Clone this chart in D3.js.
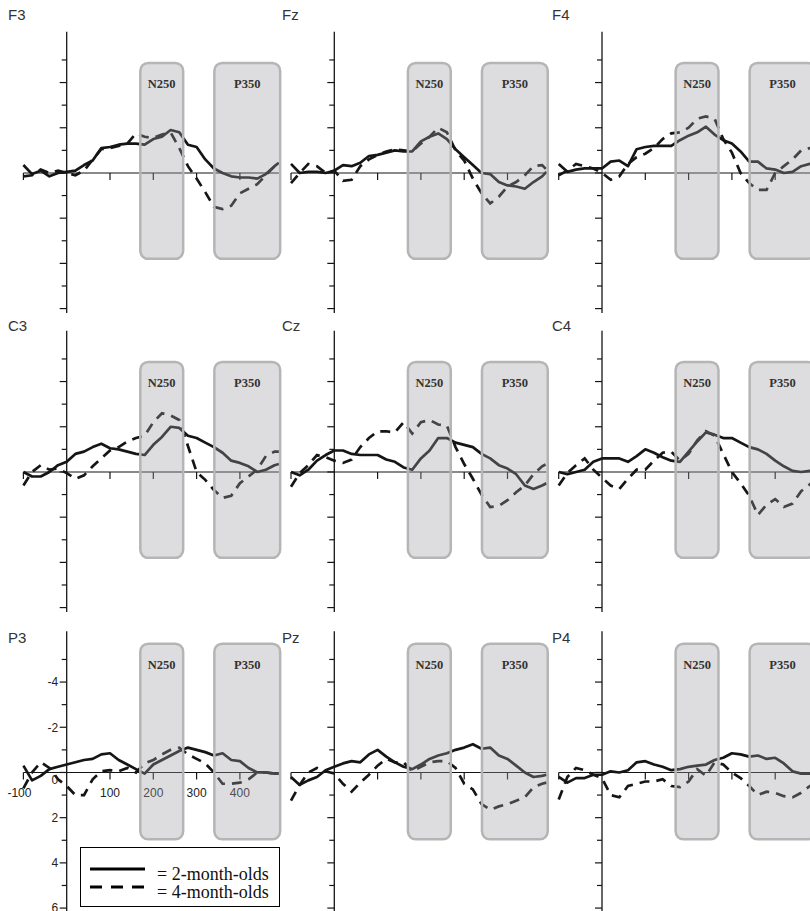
<!DOCTYPE html>
<html>
<head>
<meta charset="utf-8">
<script src="https://cdn.jsdelivr.net/npm/d3@7"></script>
<style>
  html, body { margin: 0; padding: 0; background: #fff; }
  svg { display: block; }
</style>
</head>
<body>
<div class="svgContainer"></div>
<script>
// Time points (ms) the waveforms were read at
var TIMES = [-100, -80, -60, -40, -20, 0, 20, 40, 60, 80, 100, 120, 140, 160, 180, 200,
             220, 240, 260, 280, 300, 320, 340, 360, 380, 400, 420, 440, 460, 480, 490];

// Electrode names, row by row
var CHANNELS = ["F3", "Fz", "F4", "C3", "Cz", "C4", "P3", "Pz", "P4"];

// Amplitudes in microvolts (negative plotted up), 2-month-olds = solid, 4-month-olds = dashed
var F3_2mo = [-0.35, 0.05, -0.1, 0.15, 0.0, -0.05, -0.1, -0.35, -0.55, -1.1, -1.15, -1.25, -1.3, -1.3, -1.25, -1.5, -1.6, -1.9, -1.8, -1.25, -1.15, -0.6, -0.2, 0.0, 0.15, 0.2, 0.2, 0.25, 0.05, -0.3, -0.45];
var F3_4mo = [0.15, 0.1, -0.15, 0.0, -0.1, 0.0, 0.1, -0.1, -0.6, -1.05, -1.1, -1.2, -1.3, -1.75, -1.6, -1.55, -1.7, -1.8, -1.1, -0.3, 0.25, 0.85, 1.5, 1.6, 1.45, 0.9, 0.7, 0.5, 0.1, -0.3, -0.45];
var Fz_2mo = [-0.4, 0.0, -0.05, -0.05, 0.0, -0.1, -0.35, -0.3, -0.45, -0.75, -0.8, -0.9, -1.0, -0.95, -0.95, -1.4, -1.6, -1.75, -1.5, -1.05, -0.7, -0.35, 0.0, 0.05, 0.4, 0.55, 0.6, 0.7, 0.4, 0.15, -0.05];
var Fz_4mo = [0.45, 0.0, -0.4, -0.3, 0.0, -0.1, 0.35, 0.3, -0.3, -0.6, -0.8, -0.95, -1.05, -1.0, -0.95, -1.3, -1.6, -2.0, -1.8, -1.0, -0.55, 0.25, 0.9, 1.35, 1.05, 0.6, 0.4, 0.1, -0.3, -0.35, -0.15];
var F4_2mo = [-0.4, -0.05, -0.15, -0.2, -0.2, -0.2, -0.5, -0.55, -0.3, -1.05, -1.15, -1.2, -1.2, -1.2, -1.45, -1.65, -1.8, -2.05, -1.7, -1.45, -1.3, -0.95, -0.5, -0.5, -0.2, -0.15, 0.0, -0.05, -0.3, -0.4, -0.4];
var F4_4mo = [0.1, -0.1, -0.4, -0.3, -0.2, 0.0, 0.3, 0.15, -0.4, -0.7, -0.85, -1.1, -1.5, -1.75, -1.8, -2.0, -2.4, -2.5, -2.4, -1.5, -0.9, 0.0, 0.45, 0.75, 0.75, 0.0, -0.3, -0.6, -1.0, -1.1, -1.1];
var C3_2mo = [0.0, 0.2, 0.2, 0.0, -0.3, -0.45, -0.8, -0.9, -1.1, -1.25, -1.05, -1.0, -0.9, -0.8, -0.75, -1.2, -1.55, -2.0, -1.95, -1.6, -1.5, -1.3, -1.1, -0.85, -0.5, -0.4, -0.25, 0.0, -0.1, -0.3, -0.35];
var C3_4mo = [0.6, 0.0, -0.3, -0.1, -0.15, 0.05, 0.3, 0.15, -0.25, -0.6, -0.95, -1.1, -1.35, -1.5, -1.6, -2.2, -2.6, -2.5, -2.3, -1.15, 0.0, 0.35, 0.8, 1.15, 1.05, 0.5, 0.2, -0.1, -0.7, -0.9, -0.9];
var Cz_2mo = [0.0, 0.15, -0.1, -0.5, -0.75, -0.95, -0.95, -0.8, -0.75, -0.75, -0.75, -0.55, -0.45, -0.2, -0.1, -0.6, -0.95, -1.5, -1.5, -1.3, -1.2, -1.1, -0.8, -0.6, -0.3, -0.15, 0.1, 0.6, 0.75, 0.6, 0.5];
var Cz_4mo = [0.65, 0.05, -0.3, -0.75, -0.65, -0.5, -0.4, -0.55, -1.1, -1.5, -1.8, -1.8, -1.75, -2.2, -1.7, -2.2, -2.3, -2.1, -2.05, -1.1, -0.35, 0.3, 1.0, 1.55, 1.5, 1.25, 0.9, 0.6, 0.1, -0.25, -0.35];
var C4_2mo = [0.0, 0.1, 0.0, -0.1, -0.45, -0.6, -0.6, -0.6, -0.45, -0.7, -1.0, -0.85, -0.65, -0.5, -0.45, -0.9, -1.35, -1.75, -1.65, -1.5, -1.5, -1.3, -1.1, -1.0, -0.8, -0.5, -0.25, -0.05, 0.0, -0.05, -0.05];
var C4_4mo = [0.6, 0.05, -0.3, -0.6, -0.1, 0.25, 0.6, 0.75, 0.3, -0.1, -0.1, -0.5, -0.85, -0.9, -0.5, -0.8, -1.4, -1.8, -1.6, -0.8, 0.0, 0.5, 1.05, 1.9, 1.45, 1.2, 1.55, 1.4, 0.85, 0.55, 0.4];
var P3_2mo = [-0.3, 0.35, 0.15, -0.15, -0.25, -0.35, -0.45, -0.55, -0.6, -0.8, -0.85, -0.55, -0.35, -0.15, 0.05, -0.35, -0.55, -0.75, -0.95, -1.1, -1.0, -0.9, -0.75, -0.85, -0.55, -0.5, -0.2, 0.0, 0.0, 0.05, 0.05];
var P3_4mo = [0.7, 0.0, -0.45, -0.2, 0.3, 0.6, 1.0, 1.0, 0.3, -0.05, -0.1, -0.05, -0.2, 0.0, -0.4, -0.55, -0.8, -1.0, -1.1, -0.8, -0.6, -0.4, 0.0, 0.5, 0.5, 0.45, 0.3, 0.0, 0.0, 0.05, 0.05];
var Pz_2mo = [0.2, 0.55, 0.35, 0.2, -0.1, -0.25, -0.4, -0.5, -0.45, -0.8, -1.0, -0.7, -0.45, -0.25, -0.15, -0.35, -0.6, -0.75, -0.85, -1.0, -1.1, -1.25, -1.05, -1.1, -0.75, -0.6, -0.3, 0.0, 0.2, 0.15, 0.1];
var Pz_4mo = [1.25, 0.55, 0.0, -0.2, -0.05, 0.05, 0.5, 0.85, 0.45, 0.1, -0.3, -0.6, -0.45, -0.45, -0.05, -0.25, -0.45, -0.5, -0.5, -0.2, 0.5, 0.75, 1.4, 1.65, 1.5, 1.4, 1.25, 1.1, 0.65, 0.5, 0.45];
var P4_2mo = [0.2, 0.45, 0.25, 0.25, 0.1, 0.1, -0.05, 0.0, -0.1, -0.45, -0.5, -0.35, -0.25, -0.1, -0.15, -0.25, -0.3, -0.35, -0.55, -0.65, -0.85, -0.8, -0.7, -0.75, -0.6, -0.65, -0.4, -0.05, 0.05, 0.05, 0.05];
var P4_4mo = [1.2, 0.2, -0.2, -0.1, 0.1, 0.25, 1.0, 1.1, 0.6, 0.5, 0.4, 0.4, 0.3, 0.6, 0.65, 0.4, -0.15, 0.15, -0.45, -0.35, 0.0, 0.25, 0.6, 1.0, 0.85, 0.9, 1.05, 1.1, 0.9, 0.6, 0.5];

// Component windows (ms) and their vertical extent per row (microvolts)
var WINDOWS = [{name: "N250", from: 170, to: 269}, {name: "P350", from: 341, to: 493}];
var BOX_TOP = [-4.87, -4.87, -5.7];
var BOX_BOTTOM = [3.8, 3.8, 2.96];

// Axis ticks
var X_TICKS = [-100, 100, 200, 300, 400];
var X_LABELS = ["-100", "100", "200", "300", "400"];
var Y_TICKS = [-5, -4, -3, -2, -1, 0, 1, 2, 3, 4, 5, 6];
var Y_LABELS = ["-4", "-2", "0", "2", "4", "6"];

var LEGEND = ["= 2-month-olds", "= 4-month-olds"];

var series = {
    F3: [F3_2mo, F3_4mo], Fz: [Fz_2mo, Fz_4mo], F4: [F4_2mo, F4_4mo],
    C3: [C3_2mo, C3_4mo], Cz: [Cz_2mo, Cz_4mo], C4: [C4_2mo, C4_4mo],
    P3: [P3_2mo, P3_4mo], Pz: [Pz_2mo, Pz_4mo], P4: [P4_2mo, P4_4mo]
};

// Layout
var width = 810, height = 911;
var colX = [66.7, 334.3, 602];      // y-axis position of each column
var rowY = [173, 472, 772.5];       // zero line of each row
var labelX = [8, 282, 552];
var labelY = [20, 331, 643];
var SANS = "'Liberation Sans', Arial, Helvetica, sans-serif";
var SERIF = "'Liberation Serif', 'Times New Roman', Times, serif";
var INK = "#151515";

var svg = d3.select(".svgContainer").append("svg")
    .attr("width", width)
    .attr("height", height);

var x = d3.scaleLinear().domain([-100, 500]).range([-43.3, 216.5]);
var y = d3.scaleLinear().domain([-6.25, 6.2]).range([-141.3, 140.1]);

var line = d3.line()
    .x(function(d) { return x(d[0]); })
    .y(function(d) { return y(d[1]); });

CHANNELS.forEach(function(name, i) {
    var row = Math.floor(i / 3), col = i % 3;
    var g = svg.append("g")
        .attr("transform", "translate(" + colX[col] + "," + rowY[row] + ")");

    // electrode label
    svg.append("text")
        .attr("x", labelX[col])
        .attr("y", labelY[row])
        .attr("font-family", SANS)
        .attr("font-size", 15)
        .attr("fill", "#333")
        .text(name);

    // y axis
    g.append("line")
        .attr("x1", 0).attr("x2", 0)
        .attr("y1", y(-6.25)).attr("y2", y(6.2))
        .attr("stroke", INK).attr("stroke-width", 1.3);
    g.selectAll(".ytick")
        .data(Y_TICKS)
        .enter().append("line")
        .attr("class", "ytick")
        .attr("x1", function(d) { return d % 2 === 0 ? -7 : -5; })
        .attr("x2", 0)
        .attr("y1", function(d) { return y(d); })
        .attr("y2", function(d) { return y(d); })
        .attr("stroke", INK).attr("stroke-width", 1.2);

    // x axis (zero line)
    g.append("line")
        .attr("x1", x(-100)).attr("x2", x(490))
        .attr("y1", 0).attr("y2", 0)
        .attr("stroke", INK).attr("stroke-width", 1.2);
    g.selectAll(".xtick")
        .data(X_TICKS)
        .enter().append("line")
        .attr("class", "xtick")
        .attr("x1", function(d) { return x(d); })
        .attr("x2", function(d) { return x(d); })
        .attr("y1", 0).attr("y2", 7)
        .attr("stroke", INK).attr("stroke-width", 1.2);

    // waveforms
    var s = series[name];
    g.append("path")
        .datum(d3.zip(TIMES, s[0]))
        .attr("d", line)
        .attr("fill", "none")
        .attr("stroke", INK)
        .attr("stroke-width", 2.7)
        .attr("stroke-linejoin", "round");
    g.append("path")
        .datum(d3.zip(TIMES, s[1]))
        .attr("d", line)
        .attr("fill", "none")
        .attr("stroke", INK)
        .attr("stroke-width", 2.7)
        .attr("stroke-dasharray", "10,7");

    // tick labels only on P3
    if (name === "P3") {
        g.selectAll(".ylab")
            .data(Y_LABELS)
            .enter().append("text")
            .attr("class", "ylab")
            .attr("x", -8.5)
            .attr("y", function(d) { return y(+d) + (d === "0" ? 11.5 : 4.3); })
            .attr("text-anchor", "end")
            .attr("font-family", SANS)
            .attr("font-size", 12)
            .attr("fill", "#222")
            .text(function(d) { return d; });
        g.selectAll(".xlab")
            .data(X_LABELS)
            .enter().append("text")
            .attr("class", "xlab")
            .attr("x", function(d) { return x(+d) - (+d < 0 ? 4 : 0); })
            .attr("y", 24)
            .attr("text-anchor", "middle")
            .attr("font-family", SANS)
            .attr("font-size", 12)
            .attr("fill", "#222")
            .text(function(d) { return d; });
    }

    // component windows drawn over the traces
    g.selectAll(".win")
        .data(WINDOWS)
        .enter().append("rect")
        .attr("class", "win")
        .attr("x", function(d) { return x(d.from); })
        .attr("width", function(d) { return x(d.to) - x(d.from); })
        .attr("y", y(BOX_TOP[row]))
        .attr("height", y(BOX_BOTTOM[row]) - y(BOX_TOP[row]))
        .attr("rx", 8).attr("ry", 8)
        .attr("fill", "#9d9ea3")
        .attr("fill-opacity", 0.35)
        .attr("stroke", "#b5b5b5")
        .attr("stroke-width", 2.5);
    g.selectAll(".winlab")
        .data(WINDOWS)
        .enter().append("text")
        .attr("class", "winlab")
        .attr("x", function(d) { return (x(d.from) + x(d.to)) / 2; })
        .attr("y", y(BOX_TOP[row]) + 25)
        .attr("text-anchor", "middle")
        .attr("font-family", SERIF)
        .attr("font-weight", "bold")
        .attr("font-size", 12.5)
        .attr("fill", "#333")
        .text(function(d) { return d.name; });
});

// Legend
var lg = svg.append("g").attr("transform", "translate(80,847)");
lg.append("rect")
    .attr("x", 0.5).attr("y", 0.5)
    .attr("width", 199).attr("height", 59)
    .attr("fill", "#fff")
    .attr("stroke", "#000")
    .attr("stroke-width", 1);
LEGEND.forEach(function(t, i) {
    lg.append("line")
        .attr("x1", 10).attr("x2", 65)
        .attr("y1", 22 + i * 18).attr("y2", 22 + i * 18)
        .attr("stroke", "#000")
        .attr("stroke-width", 3)
        .attr("stroke-dasharray", i === 0 ? null : "12,9");
    lg.append("text")
        .attr("x", 77)
        .attr("y", 33 + i * 18)
        .attr("font-family", SERIF)
        .attr("font-size", 18)
        .attr("fill", "#111")
        .text(t);
});
</script>
</body>
</html>
